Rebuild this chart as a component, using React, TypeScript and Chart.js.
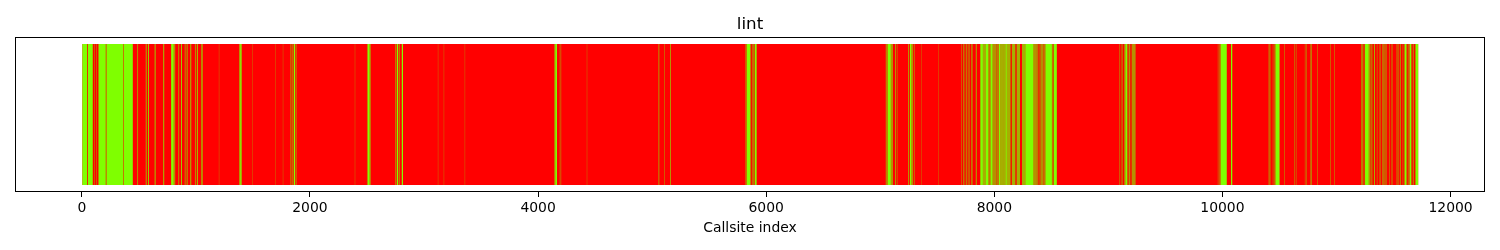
import React, { useEffect, useRef } from "react";
import { Chart, registerables } from "chart.js";

Chart.register(...registerables);

const TITLE = "lint";
const X_LABEL = "Callsite index";
const CATEGORY = ["lint"];
const TOTAL_CALLSITES = 11716;
const X_TICKS = [0, 2000, 4000, 6000, 8000, 10000, 12000];

// Callsite index ranges [start, end) that are green; everything else is red.
const GREEN_INTERVALS: [number, number][] = [
  [0, 46], [53, 96], [108, 111], [130, 133], [146, 210], [216, 364], [368, 447],
  [488, 493], [561, 567], [581, 588], [639, 646], [715, 722], [783, 806], [812, 818],
  [848, 853], [870, 877], [903, 908], [920, 926],
  [952, 959], [992, 997], [1009, 1016], [1049, 1058], [1202, 1204], [1378, 1383],
  [1388, 1401], [1492, 1494], [1699, 1701], [1763, 1765], [1826, 1829], [1841, 1846],
  [1858, 1871], [1883, 1886],
  [2394, 2396], [2500, 2505], [2509, 2524], [2531, 2535], [2746, 2750], [2761, 2774],
  [2781, 2785], [2805, 2816],
  [3122, 3124], [3174, 3176], [3358, 3360],
  [4144, 4148], [4150, 4166], [4191, 4194], [4200, 4202], [4428, 4430],
  [5057, 5062], [5106, 5109], [5160, 5165],
  [5820, 5825], [5829, 5859], [5862, 5866], [5875, 5878], [5883, 5888], [5899, 5912],
  [5914, 5919],
  [7049, 7054], [7058, 7062], [7065, 7093], [7097, 7102], [7106, 7111], [7132, 7137],
  [7146, 7149], [7246, 7251], [7260, 7275], [7281, 7286], [7295, 7299], [7361, 7363],
  [7508, 7510], [7712, 7715], [7726, 7730], [7741, 7744], [7755, 7759], [7768, 7772],
  [7779, 7782], [7796, 7800], [7808, 7811],
  [7838, 7844], [7877, 7900], [7903, 7909], [7912, 7918], [7921, 7950], [7954, 7958],
  [7965, 7985], [7986, 7992], [7995, 8001], [8004, 8010], [8013, 8017], [8022, 8026],
  [8030, 8034], [8038, 8052], [8053, 8058], [8061, 8067], [8070, 8076], [8079, 8086],
  [8088, 8094], [8096, 8110], [8113, 8119], [8122, 8128], [8131, 8137], [8143, 8147],
  [8157, 8163], [8166, 8172], [8175, 8181], [8188, 8192], [8201, 8207], [8210, 8216],
  [8219, 8225], [8245, 8251], [8254, 8260], [8263, 8269], [8271, 8344], [8346, 8352],
  [8355, 8361], [8364, 8370], [8377, 8381], [8390, 8394], [8406, 8412], [8415, 8421],
  [8424, 8430], [8436, 8440], [8447, 8505], [8508, 8512], [8520, 8548],
  [9096, 9099], [9110, 9113], [9123, 9126], [9138, 9142], [9148, 9166], [9171, 9174],
  [9183, 9188], [9197, 9200], [9209, 9214], [9218, 9223], [9227, 9232], [9239, 9242],
  [9960, 9963], [9973, 9976], [9981, 9985], [9986, 10038], [10075, 10086],
  [10406, 10411], [10416, 10419], [10442, 10445], [10455, 10458], [10463, 10468],
  [10468, 10496], [10498, 10503], [10543, 10546], [10631, 10634], [10644, 10647],
  [10723, 10726], [10736, 10739],
  [10771, 10774], [10779, 10783], [10830, 10833], [10946, 10949], [10979, 10982],
  [11217, 11221], [11226, 11230], [11239, 11243], [11250, 11283], [11287, 11292],
  [11300, 11305], [11310, 11313], [11330, 11336], [11354, 11357], [11379, 11384],
  [11404, 11411], [11422, 11428], [11434, 11437], [11463, 11466], [11484, 11489],
  [11528, 11533], [11545, 11548], [11556, 11561], [11581, 11584], [11596, 11611],
  [11614, 11619], [11630, 11633], [11640, 11655], [11660, 11663], [11673, 11677],
  [11692, 11716],
];

const RED = "#ff0000";
const GREEN = "#7fff00";
const FONT = "'DejaVu Sans', 'Liberation Sans', sans-serif";

const framePlugin = {
  id: "frame",
  afterDraw(chart: any) {
    const { ctx, chartArea: a } = chart;
    ctx.save();
    ctx.strokeStyle = "#000";
    ctx.lineWidth = 1;
    const l = Math.round(a.left) + 0.5;
    const t = Math.round(a.top) + 0.5;
    const r = Math.round(a.right) - 0.5;
    const b = Math.round(a.bottom) - 0.5;
    ctx.strokeRect(l, t, r - l, b - t);
    ctx.restore();
  },
};

export default function App() {
  const ref = useRef<HTMLCanvasElement | null>(null);

  useEffect(() => {
    if (!ref.current) return;
    const margin = 0.05 * TOTAL_CALLSITES;
    const chart = new Chart(ref.current, {
      type: "bar",
      data: {
        labels: CATEGORY,
        datasets: [
          {
            label: "green",
            data: GREEN_INTERVALS.map(([s, e]) => ({ x: [s, e], y: CATEGORY[0] })) as any,
            backgroundColor: GREEN,
            borderWidth: 0,
            grouped: false,
            inflateAmount: 0,
            barPercentage: 0.91,
            categoryPercentage: 1,
            order: 1,
          } as any,
          {
            label: "red",
            data: [{ x: [0, TOTAL_CALLSITES], y: CATEGORY[0] }] as any,
            backgroundColor: RED,
            borderWidth: 0,
            grouped: false,
            inflateAmount: 0,
            barPercentage: 0.91,
            categoryPercentage: 1,
            order: 2,
          } as any,
        ],
      },
      options: {
        responsive: false,
        animation: false,
        events: [],
        indexAxis: "y",
        layout: { padding: { left: 15, right: 15, top: 0, bottom: 0 } },
        plugins: {
          legend: { display: false },
          tooltip: { enabled: false },
          title: {
            display: true,
            text: TITLE,
            color: "#000",
            font: { family: FONT, size: 16.7, weight: "normal" },
            padding: { top: 15, bottom: 2 },
          },
        },
        scales: {
          x: {
            type: "linear",
            min: -margin,
            max: TOTAL_CALLSITES + margin,
            afterBuildTicks: (s: any) => {
              s.ticks = X_TICKS.map((v) => ({ value: v }));
            },
            afterFit: (s: any) => {
              s.height = 58;
            },
            ticks: {
              color: "#000",
              font: { family: FONT, size: 13.9 },
              padding: 3.5,
              autoSkip: false,
              maxRotation: 0,
              callback: (v: any) => String(v),
            },
            grid: {
              display: true,
              drawOnChartArea: false,
              drawTicks: true,
              tickLength: 5,
              color: "#000",
              lineWidth: 1,
            },
            border: { display: false },
            title: {
              display: true,
              text: X_LABEL,
              color: "#000",
              font: { family: FONT, size: 13.9 },
              padding: { top: 0, bottom: 13.5 },
            },
          },
          y: {
            type: "category",
            labels: CATEGORY,
            display: false,
          },
        },
      } as any,
      plugins: [framePlugin],
    });
    return () => chart.destroy();
  }, []);

  return (
    <div style={{ position: "fixed", left: 0, top: 0, width: 1500, height: 250, background: "#fff" }}>
      <canvas ref={ref} width={1500} height={250} style={{ display: "block" }} />
    </div>
  );
}
